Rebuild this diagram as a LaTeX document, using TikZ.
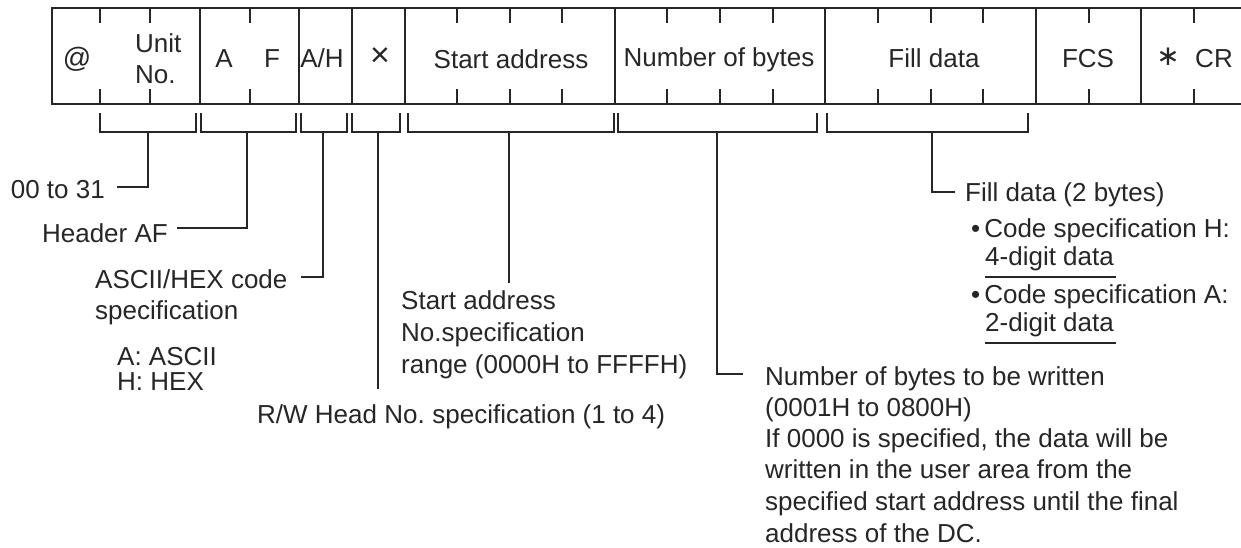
\documentclass[tikz,border=0pt]{standalone}
\usepackage{fontspec}
\setmainfont{Liberation Sans}
\newfontfamily\djv{DejaVu Sans}
\begin{document}
\begin{tikzpicture}[x=1pt,y=-1pt,
  every node/.style={inner sep=0pt,font=\fontsize{26}{31}\selectfont,text=black!85},
  frame/.style={line width=2.2pt,black!85},
  tick/.style={line width=2pt,black!85},
  brk/.style={line width=1.6pt,black!85},
  lead/.style={line width=1.6pt,black!85},
  uline/.style={line width=2.6pt,black!85}]
\useasboundingbox (0,0) rectangle (1241,547);
% frame
\draw[frame] (1241,8) -- (52,8) -- (52,104) -- (1241,104);
\foreach \x in {200,299,352,405,615,825,1036,1141}
  \draw[frame] (\x,8) -- (\x,104);
\foreach \x in {100,150,250,457,510,562,667,720,773,878,931,983,1089,1194}
  {\draw[tick] (\x,8) -- (\x,23); \draw[tick] (\x,89) -- (\x,104);}
% header texts
\node[anchor=base] (hat) at (77,67) {\fontsize{28}{31}\selectfont @};
\node[anchor=base west] (hunit) at (135,52) {Unit};
\node[anchor=base west] (hno) at (135,83) {No.};
\node[anchor=base] (ha) at (224,67) {A};
\node[anchor=base] (hf) at (272,67) {F};
\node[anchor=base] (hah) at (322,67) {A/H};
\node[anchor=center] (hx) at (380,57) {\fontsize{34}{34}\selectfont ×};
\node[anchor=base] (hstart) at (511,68) {Start address};
\node[anchor=base] (hnum) at (719,66) {Number of bytes};
\node[anchor=base] (hfill) at (934,67) {Fill data};
\node[anchor=base] (hfcs) at (1088,67) {FCS};
\node[anchor=center] (hast) at (1168,57) {\djv\fontsize{28}{28}\selectfont ∗};
\node[anchor=base] (hcr) at (1214,67) {CR};
% brackets
\foreach \l/\r in {100/196,201/296,301/347,352/400,408/614,618/817,827/1028}
  \draw[brk] (\l,113) -- (\l,132) -- (\r,132) -- (\r,113);
\coordinate (s1) at (148,132);
\coordinate (s2) at (247,132);
\coordinate (s3) at (323,132);
\coordinate (s4) at (378,132);
\coordinate (s5) at (509,132);
\coordinate (s6) at (717,132);
\coordinate (s7) at (932,132);
% labels
\node[anchor=base east] (t1) at (105,198) {00 to 31};
\node[anchor=base east] (t2) at (168,242) {Header AF};
\node[anchor=base west] (t3a) at (95,288) {ASCII/HEX code};
\node[anchor=base west] (t3b) at (95,319) {specification};
\node[anchor=base west] (t3c) at (117,365) {A: ASCII};
\node[anchor=base west] (t3d) at (117,390) {H: HEX};
\node[anchor=base west] (t4) at (257,423) {R/W Head No.\kern-2pt{} specification (1 to 4)};
\node[anchor=base west] (t5a) at (401,309) {Start address};
\node[anchor=base west] (t5b) at (401,341) {No.specification};
\node[anchor=base west] (t5c) at (401,373) {range (0000H to FFFFH)};
\node[anchor=base west] (t6a) at (765,385) {Number of bytes to be written};
\node[anchor=base west] (t6b) at (765,416) {(0001H to 0800H)};
\node[anchor=base west] (t6c) at (765,447) {If 0000 is specified, the data will be};
\node[anchor=base west] (t6d) at (765,478) {written in the user area from the};
\node[anchor=base west] (t6e) at (765,510) {specified start address until the final};
\node[anchor=base west] (t6f) at (765,542) {address of the DC.};
\node[anchor=base west] (t7a) at (965,201) {Fill data (2 bytes)};
\node[anchor=base west] (t7b) at (971,237) {•\kern4pt Code specification H:};
\node[anchor=base west] (t7c) at (985,265) {4-digit data};
\node[anchor=base west] (t7d) at (971,303) {•\kern4pt Code specification A:};
\node[anchor=base west] (t7e) at (985,331) {2-digit data};
\coordinate (u1a) at (985,277); \coordinate (u1b) at (1116,277);
\coordinate (u2a) at (985,343); \coordinate (u2b) at (1116,343);
\draw[uline] (u1a) -- (u1b);
\draw[uline] (u2a) -- (u2b);
% leader ends
\coordinate (e1) at (117,187);
\coordinate (e2) at (177,228);
\coordinate (e3) at (301,277);
\coordinate (e4) at (378,389);
\coordinate (e5) at (509,283);
\coordinate (e6) at (743,374);
\coordinate (e7) at (955,192);
\draw[lead] (s1) |- (e1);
\draw[lead] (s2) |- (e2);
\draw[lead] (s3) |- (e3);
\draw[lead] (s4) -- (e4);
\draw[lead] (s5) -- (e5);
\draw[lead] (s6) |- (e6);
\draw[lead] (s7) |- (e7);
\end{tikzpicture}
\end{document}
